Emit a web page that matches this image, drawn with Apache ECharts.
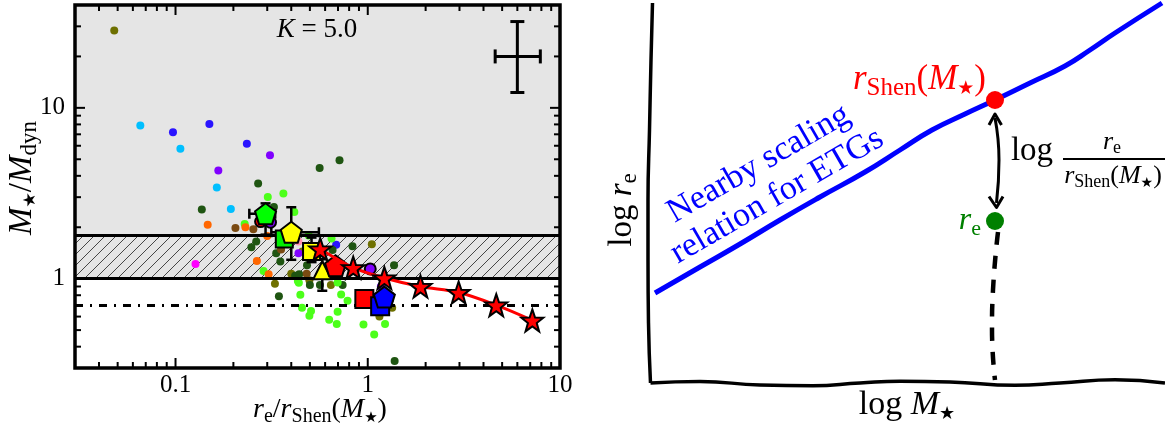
<!DOCTYPE html>
<html><head><meta charset="utf-8">
<script src="https://cdn.jsdelivr.net/npm/echarts@6/dist/echarts.min.js"></script>
<style>html,body{margin:0;padding:0;background:#fff}#c{width:1165px;height:433px}</style>
</head><body><div id="c"></div>
<script>
// ---------------- LEFT PANEL DATA (x = r_e/r_Shen, y = M*/Mdyn) ----------------
const olive     = [[0.048,28.4],[0.329,0.935],[0.40,1.07],[0.457,1.44],[0.497,0.98],[0.643,0.918],[1.05,1.59],[1.15,0.60],[1.34,0.675]];
const lightBlue = [[0.0656,7.87],[0.106,5.76],[0.164,3.42],[0.194,2.56]];
const blue      = [[0.097,7.19],[0.150,8.05],[0.235,6.17],[0.685,1.58]];
const purple    = [[0.310,5.27],[0.167,4.30],[0.436,1.41],[1.17,0.90]];
const darkGreen = [[0.269,3.61],[0.562,4.45],[0.713,4.94],[0.137,2.54],[0.325,2.63],[0.248,1.53],[0.263,1.65],[0.334,1.41],[0.351,1.26],[0.345,0.79],[0.419,1.04],[0.44,1.06],[0.50,0.918],[0.564,0.918],[0.74,0.918],[0.483,1.20],[0.656,1.47],[0.833,1.55],[1.37,1.20],[1.38,0.33]];
const lime      = [[0.302,3.01],[0.364,3.15],[0.415,2.46],[0.229,2.09],[0.287,1.11],[0.438,0.947],[0.446,0.805],[0.455,0.675],[0.497,0.606],[0.507,0.646],[0.63,0.574],[0.69,0.542],[0.697,0.64],[0.785,0.743],[0.727,0.809],[0.95,0.54],[1.08,0.472],[1.23,0.543],[0.493,1.79],[0.648,1.72],[0.697,0.95],[0.433,0.97]];
const orange    = [[0.147,2.07],[0.231,2.00],[0.300,1.78],[0.265,1.27],[0.305,1.06]];
const brown     = [[0.205,1.98],[0.254,1.95],[0.354,1.48],[0.481,1.07]];
const magenta   = [[0.127,1.22]];
const pink      = [[0.436,1.65]];
const outlinedRed    = [[0.277,2.16]];
const outlinedPurple = [[0.312,2.14],[1.03,1.14]];

const bigGreenPentagon  = [[0.294,2.40]];
const bigGreenSquare    = [[0.368,1.71]];
const bigYellowPentagon = [[0.40,1.87]];
const bigYellowSquare   = [[0.51,1.44]];
const bigYellowTriangle = [[0.58,1.12]];
const bigRedPentagon    = [[0.68,1.19]];
const bigRedSquare      = [[0.96,0.76]];
const bigBlueSquare     = [[1.16,0.69]];
const bigBluePentagon   = [[1.22,0.78]];
// [x, y, xlo, xhi, ylo, yhi]
const errBars = [[0.294,2.40,0.242,0.330,1.81,2.76],[0.40,1.87,0.315,0.557,1.29,2.62],[0.51,1.44,0.47,0.56,1.25,1.74],[0.58,1.12,0.58,0.58,0.85,1.30],[1.22,0.78,1.12,1.34,0.72,0.85]];
const refErr  = [[6.0,20,4.6,7.9,12.3,32]];

const starsX = [0.566,0.84,1.22,1.88,2.97,4.66,7.18];
const starsY = [1.49,1.16,1.01,0.90,0.83,0.70,0.57];

const bandLow = 1.0, bandHigh = 1.8, dashLevel = 0.7;
const xMajorTicks = [0.1,1,10], xTickLabels = ['0.1','1','10'];
const xMinorTicks = [0.04,0.05,0.06,0.07,0.08,0.09,0.2,0.3,0.4,0.5,0.6,0.7,0.8,0.9,2,3,4,5,6,7,8,9];
const yMajorTicks = [1,10], yTickLabels = ['1','10'];
const yMinorTicks = [0.4,0.5,0.6,0.7,0.8,0.9,2,3,4,5,6,7,8,9,20,30];

// ---------------- RIGHT PANEL (schematic, arbitrary units) ----------------
const leftAxisPts   = [[1.05,8.60],[1.02,7.46],[0.99,6.06],[0.96,4.66],[0.96,3.46],[0.97,2.2],[1.01,1.0]];
const bottomAxisPts = [[1.01,1.0],[2.0,1.03],[3.2,0.96],[4.26,0.946],[5.2,1.0],[6.0,1.034],[7.0,1.02],[8.3,0.954],[9.2,1.0],[10.3,1.066],[11.3,1.0]];
const blueRelation  = [[1.1,2.8],[2.0,3.32],[2.8,3.78],[3.6,4.26],[4.4,4.72],[5.3,5.22],[6.0,5.66],[6.64,6.06],[7.3,6.38],[7.9,6.66],[8.6,7.0],[9.3,7.34],[9.8,7.66],[10.3,8.0],[11.24,8.6]];
const shenPoint  = [[7.9,6.66]];
const rePoint    = [[7.9,4.24]];
const arrowShaft = [[7.9,6.3],[7.98,5.46],[7.93,4.6]];
const arrowTop   = [[7.78,6.16],[7.9,6.38],[8.03,6.16]];
const arrowBot   = [[7.78,4.73],[7.93,4.51],[8.06,4.73]];
const dropLine   = [[7.96,4.02],[7.86,2.86],[7.84,2.06],[7.9,1.06]];

// ---------------- helpers ----------------
const SERIF = '"Liberation Serif","DejaVu Serif",serif';
const PENT = 'path://M50,0L97.55,34.55L79.39,90.45L20.61,90.45L2.45,34.55Z';
const STAR = 'path://M50,0L61.76,33.82L97.55,34.55L69.02,56.18L79.39,90.45L50,70L20.61,90.45L30.98,56.18L2.45,34.55L38.24,33.82Z';

function hatchCanvas(){
  const s=11, c=document.createElement('canvas'); c.width=s; c.height=s;
  const g=c.getContext('2d'); g.fillStyle='#e5e5e5'; g.fillRect(0,0,s,s);
  g.strokeStyle='#333'; g.lineWidth=0.9; g.beginPath();
  g.moveTo(-1,s+1); g.lineTo(s+1,-1); g.moveTo(-1,1); g.lineTo(1,-1); g.moveTo(s-1,s+1); g.lineTo(s+1,s-1); g.stroke();
  return c;
}
function rich(base, sub, shift, color){
  return {
    it:{fontFamily:SERIF,fontStyle:'italic',fontSize:base,fill:color,color:color},
    rm:{fontFamily:SERIF,fontSize:base,fill:color,color:color},
    sub:{fontFamily:SERIF,fontSize:sub,fill:color,color:color,padding:[shift,0,0,0]},
    st:{fontFamily:'DejaVu Sans',fontSize:Math.round(sub*0.75),fill:color,color:color,padding:[shift+2,0,0,0]}
  };
}
function dots(data,color){
  return {type:'scatter',xAxisIndex:0,yAxisIndex:0,data:data,symbol:'circle',symbolSize:8,itemStyle:{color:color,opacity:1},z:4,silent:true};
}
function big(data,symbol,size,color,z){
  return {type:'scatter',xAxisIndex:0,yAxisIndex:0,data:data,symbol:symbol,symbolSize:size,
    itemStyle:{color:color,borderColor:'#000',borderWidth:2,opacity:1},z:z||7,silent:true};
}
function errRender(capHalf, lw){
  return function(params, api){
    const c=api.coord([api.value(0),api.value(1)]);
    const xl=api.coord([api.value(2),api.value(1)])[0], xh=api.coord([api.value(3),api.value(1)])[0];
    const yl=api.coord([api.value(0),api.value(4)])[1], yh=api.coord([api.value(0),api.value(5)])[1];
    const st={stroke:'#000',lineWidth:lw};
    const ch=[];
    if (xh-xl>1){
      ch.push({type:'line',shape:{x1:xl,y1:c[1],x2:xh,y2:c[1]},style:st});
      ch.push({type:'line',shape:{x1:xl,y1:c[1]-capHalf,x2:xl,y2:c[1]+capHalf},style:st});
      ch.push({type:'line',shape:{x1:xh,y1:c[1]-capHalf,x2:xh,y2:c[1]+capHalf},style:st});
    }
    ch.push({type:'line',shape:{x1:c[0],y1:yl,x2:c[0],y2:yh},style:st});
    ch.push({type:'line',shape:{x1:c[0]-capHalf,y1:yl,x2:c[0]+capHalf,y2:yl},style:st});
    ch.push({type:'line',shape:{x1:c[0]-capHalf,y1:yh,x2:c[0]+capHalf,y2:yh},style:st});
    return {type:'group',children:ch};
  };
}
// tick data: [x, y, kind(0=x,1=y,2=frame), major]
const tickData = [];
xMajorTicks.forEach(v=>tickData.push([v,1,0,1]));
xMinorTicks.forEach(v=>tickData.push([v,1,0,0]));
yMajorTicks.forEach(v=>tickData.push([1,v,1,1]));
yMinorTicks.forEach(v=>tickData.push([1,v,1,0]));
tickData.push([1,1,2,0]);

function labelFmt(majors, labels){
  return function(v){
    for (let i=0;i<majors.length;i++){ if (Math.abs(Math.log10(v)-Math.log10(majors[i]))<1e-6) return labels[i]; }
    return '';
  };
}

const hatch = hatchCanvas();
const option = {
  animation:false,
  backgroundColor:'#fff',
  grid:[
    {left:75,top:5,width:485,height:363,show:false,containLabel:false,outerBoundsMode:'none'},
    {left:600,top:0,width:565,height:433,show:false,containLabel:false,outerBoundsMode:'none'}
  ],
  xAxis:[
    {gridIndex:0,type:'log',logBase:10,min:0.03,max:10,
     axisLine:{show:false},axisTick:{show:false},splitLine:{show:false},minorTick:{show:false},
     axisLabel:{show:true,margin:5,fontFamily:SERIF,fontSize:25,color:'#000',formatter:labelFmt(xMajorTicks,xTickLabels),showMinLabel:false,showMaxLabel:true}},
    {gridIndex:1,type:'value',min:0,max:11.3,show:false}
  ],
  yAxis:[
    {gridIndex:0,type:'log',logBase:10,min:0.3,max:40,
     axisLine:{show:false},axisTick:{show:false},splitLine:{show:false},minorTick:{show:false},
     axisLabel:{show:true,margin:10,fontFamily:SERIF,fontSize:25,color:'#000',formatter:labelFmt(yMajorTicks,yTickLabels),showMinLabel:false,showMaxLabel:false}},
    {gridIndex:1,type:'value',min:0,max:8.66,show:false}
  ],
  series:[
    {type:'line',xAxisIndex:0,yAxisIndex:0,data:[],z:1,silent:true,
     markArea:{silent:true,itemStyle:{color:'#e5e5e5',opacity:1},
       data:[[{yAxis:bandHigh},{yAxis:40}],[{yAxis:bandLow,itemStyle:{color:{image:hatch,repeat:'repeat'},opacity:1}},{yAxis:bandHigh}]]},
     markLine:{silent:true,symbol:['none','none'],label:{show:false},
       data:[{yAxis:bandLow,lineStyle:{color:'#000',width:3,type:'solid'}},
             {yAxis:bandHigh,lineStyle:{color:'#000',width:3,type:'solid'}},
             {yAxis:dashLevel,lineStyle:{color:'#000',width:3,type:[8,7,2,7]}}]}},
    dots(olive,'#6e7000'),
    dots(lightBlue,'#00bfff'),
    dots(blue,'#2a14ff'),
    dots(purple,'#8000ff'),
    dots(darkGreen,'#1f5512'),
    dots(lime,'#4cff1a'),
    dots(orange,'#ff6600'),
    dots(brown,'#7a4a12'),
    dots(magenta,'#ff00ff'),
    dots(pink,'#ff90b0'),
    big(outlinedRed,'circle',11,'#ff0000',5),
    big(outlinedPurple,'circle',11,'#8000ff',5),
    {type:'custom',xAxisIndex:0,yAxisIndex:0,data:errBars,renderItem:errRender(5,2.5),z:6,silent:true},
    big(bigGreenSquare,'rect',17,'#00ee00'),
    big(bigGreenPentagon,PENT,21,'#00ff00'),
    big(bigYellowSquare,'rect',17,'#ffff00'),
    big(bigYellowPentagon,PENT,21,'#ffff00'),
    big(bigYellowTriangle,'triangle',18,'#ffff00'),
    big(bigRedPentagon,PENT,21,'#ff0000'),
    big(bigRedSquare,'rect',18,'#ff0000'),
    big(bigBlueSquare,'rect',18,'#0000ff'),
    big(bigBluePentagon,PENT,21,'#0000ff'),
    {type:'line',xAxisIndex:0,yAxisIndex:0,data:starsX.map((x,i)=>[x,starsY[i]]),smooth:0.35,
     lineStyle:{color:'#ff0000',width:3},symbol:STAR,symbolSize:22,
     itemStyle:{color:'#ff0000',borderColor:'#000',borderWidth:2},z:8,silent:true},
    {type:'custom',xAxisIndex:0,yAxisIndex:0,data:refErr,renderItem:errRender(7,3),z:6,silent:true},
    {type:'custom',xAxisIndex:0,yAxisIndex:0,data:tickData,z:20,silent:true,clip:false,
     renderItem:function(params,api){
       const cs=params.coordSys; const kind=api.value(2), major=api.value(3);
       const len=major?10:6; const st={stroke:'#000',lineWidth:2};
       if (kind===2) return {type:'rect',shape:{x:cs.x,y:cs.y,width:cs.width,height:cs.height},style:{stroke:'#000',lineWidth:3.5,fill:null}};
       if (kind===0){
         const px=api.coord([api.value(0),1])[0];
         return {type:'group',children:[
           {type:'line',shape:{x1:px,y1:cs.y+cs.height,x2:px,y2:cs.y+cs.height-len},style:st},
           {type:'line',shape:{x1:px,y1:cs.y,x2:px,y2:cs.y+len},style:st}]};
       }
       const py=api.coord([1,api.value(1)])[1];
       return {type:'group',children:[
         {type:'line',shape:{x1:cs.x,y1:py,x2:cs.x+len,y2:py},style:st},
         {type:'line',shape:{x1:cs.x+cs.width,y1:py,x2:cs.x+cs.width-len,y2:py},style:st}]};
     }},
    // ------- right panel -------
    {type:'line',xAxisIndex:1,yAxisIndex:1,data:leftAxisPts,smooth:true,symbol:'none',lineStyle:{color:'#000',width:3.5},silent:true},
    {type:'line',xAxisIndex:1,yAxisIndex:1,data:bottomAxisPts,smooth:true,symbol:'none',lineStyle:{color:'#000',width:3.5},silent:true},
    {type:'line',xAxisIndex:1,yAxisIndex:1,data:blueRelation,smooth:true,symbol:'none',lineStyle:{color:'#0000ff',width:5},silent:true},
    {type:'line',xAxisIndex:1,yAxisIndex:1,data:dropLine,smooth:true,symbol:'none',lineStyle:{color:'#000',width:4.5,type:[13,11]},silent:true},
    {type:'line',xAxisIndex:1,yAxisIndex:1,data:arrowShaft,smooth:true,symbol:'none',lineStyle:{color:'#000',width:3},silent:true},
    {type:'line',xAxisIndex:1,yAxisIndex:1,data:arrowTop,symbol:'none',lineStyle:{color:'#000',width:3,join:'round'},silent:true},
    {type:'line',xAxisIndex:1,yAxisIndex:1,data:arrowBot,symbol:'none',lineStyle:{color:'#000',width:3,join:'round'},silent:true},
    {type:'scatter',xAxisIndex:1,yAxisIndex:1,data:shenPoint,symbol:'circle',symbolSize:18,itemStyle:{color:'#ff0000',opacity:1},z:5,silent:true},
    {type:'scatter',xAxisIndex:1,yAxisIndex:1,data:rePoint,symbol:'circle',symbolSize:18,itemStyle:{color:'#008000',opacity:1},z:5,silent:true}
  ],
  graphic:{elements:[
    {type:'text',z:100,x:317,y:30,style:{text:'{it|K}{rm| = 5.0}',rich:rich(27,18,12,'#000'),align:'center',verticalAlign:'middle'}},
    {type:'text',z:100,x:320,y:410,style:{text:'{it|r}{sub|e}{rm|/}{it|r}{sub|Shen}{rm|(}{it|M}{st|★}{rm|)}',rich:rich(28,20,14,'#000'),align:'center',verticalAlign:'middle'}},
    {type:'text',z:100,x:22,y:178,rotation:Math.PI/2,style:{text:'{it|M}{st|★}{rm|/}{it|M}{sub|dyn}',rich:rich(33,23,16,'#000'),align:'center',verticalAlign:'middle'}},
    {type:'text',z:100,x:622,y:210,rotation:Math.PI/2,style:{text:'{rm|log }{it|r}{sub|e}',rich:rich(33,23,16,'#000'),align:'center',verticalAlign:'middle'}},
    {type:'text',z:100,x:907,y:405,style:{text:'{rm|log }{it|M}{st|★}',rich:rich(34,24,17,'#000'),align:'center',verticalAlign:'middle'}},
    {type:'text',z:100,x:768,y:180,rotation:30*Math.PI/180,style:{text:'{rm|Nearby scaling}\n{rm|relation for ETGs}',rich:{rm:{fontFamily:SERIF,fontSize:34,fill:'#0000ff',color:'#0000ff',lineHeight:37}},align:'center',verticalAlign:'middle'}},
    {type:'text',z:100,x:986,y:80,style:{text:'{it|r}{sub|Shen}{rm|(}{it|M}{st|★}{rm|)}',rich:rich(35,25,17,'#ff0000'),align:'right',verticalAlign:'middle'}},
    {type:'text',z:100,x:981,y:221,style:{text:'{it|r}{sub|e}',rich:rich(32,22,16,'#008000'),align:'right',verticalAlign:'middle'}},
    {type:'text',z:100,x:1032,y:151,style:{text:'{rm|log}',rich:rich(33,20,14,'#000'),align:'center',verticalAlign:'middle'}},
    {type:'line',z:100,shape:{x1:1063,y1:159,x2:1165,y2:159},style:{stroke:'#000',lineWidth:2}},
    {type:'text',z:100,x:1112,y:142,style:{text:'{it|r}{sub|e}',rich:rich(26,18,12,'#000'),align:'center',verticalAlign:'middle'}},
    {type:'text',z:100,x:1113,y:176,style:{text:'{it|r}{sub|Shen}{rm|(}{it|M}{st|★}{rm|)}',rich:rich(26,18,12,'#000'),align:'center',verticalAlign:'middle'}}
  ]}
};
const chart = echarts.init(document.getElementById('c'));
chart.setOption(option);
</script></body></html>
